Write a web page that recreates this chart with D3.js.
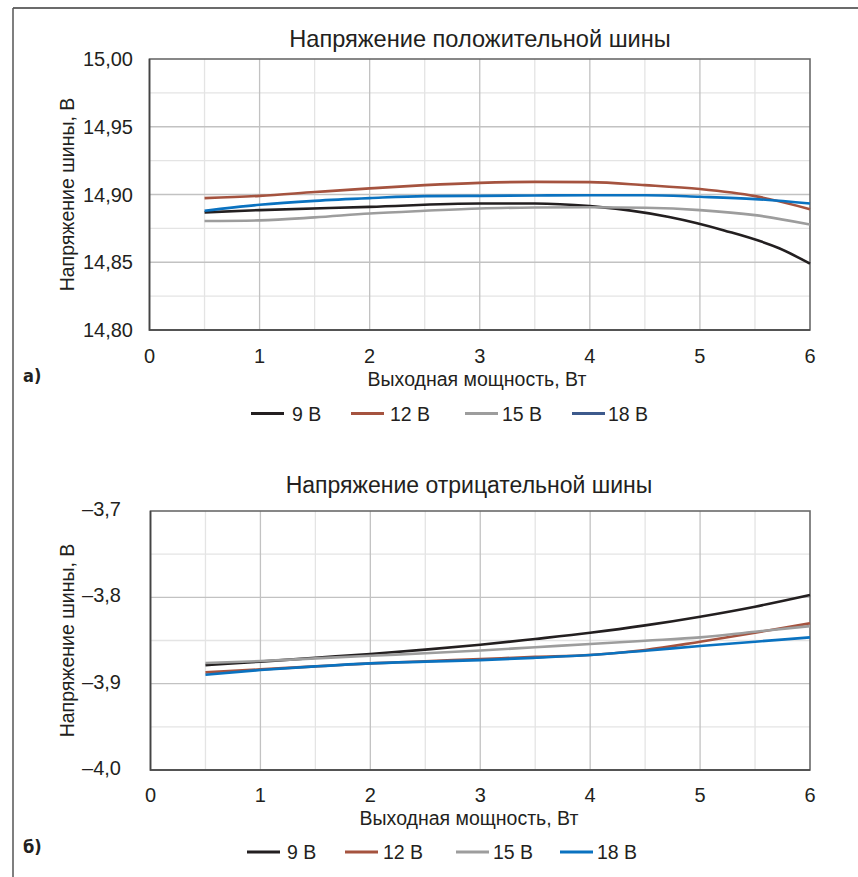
<!DOCTYPE html>
<html><head><meta charset="utf-8">
<script src="https://cdn.jsdelivr.net/npm/d3@7"></script>
<style>
html,body{margin:0;padding:0;background:#fff;}
svg{display:block;font-family:"Liberation Sans",Arial,sans-serif;}
</style></head>
<body>
<svg id="c" width="858" height="877"></svg>
<script>
// ---------- data ----------
const seriesNames = ["9 В", "12 В", "15 В", "18 В"];
const seriesColors = ["#231f20", "#a5533f", "#9d9d9d", "#0a72c0"];
const legendColorsTop = ["#231f20", "#a5533f", "#9d9d9d", "#3d5a8c"];
const legendColorsBottom = ["#231f20", "#a5533f", "#9d9d9d", "#0a72c0"];

const xTicks = [0, 1, 2, 3, 4, 5, 6];
const yTicksTop = [14.80, 14.85, 14.90, 14.95, 15.00];
const yTicksBottom = [-4.0, -3.9, -3.8, -3.7];

const xTop = [0.5, 1, 1.5, 2, 2.5, 3, 3.5, 4, 4.5, 5, 5.5, 6];
const xTopBlack = [0.5, 1, 2, 3, 3.5, 4, 4.72, 5.22, 5.72, 6];
const top9 = [14.8868, 14.8885, 14.8909, 14.8934, 14.8934, 14.8914, 14.8834, 14.8735, 14.8603, 14.849];
const top12 = [14.8973, 14.899, 14.9018, 14.9045, 14.9069, 14.9086, 14.9093, 14.9091, 14.9069, 14.904, 14.8988, 14.8892];
const top15 = [14.8804, 14.8809, 14.8831, 14.886, 14.888, 14.8897, 14.8904, 14.8906, 14.8902, 14.8885, 14.8848, 14.8779];
const top18 = [14.888, 14.8924, 14.8953, 14.8973, 14.8988, 14.899, 14.8993, 14.8995, 14.8995, 14.8983, 14.8966, 14.8934];

const xBottom = [0.5, 1, 1.5, 2, 2.5, 3, 3.5, 4, 4.5, 5, 5.5, 6];
const bot9 = [-3.8785, -3.8745, -3.870, -3.8656, -3.8606, -3.855, -3.8482, -3.841, -3.8325, -3.8224, -3.8108, -3.7973];
const bot12 = [-3.8869, -3.8834, -3.880, -3.8765, -3.874, -3.8715, -3.869, -3.8668, -3.861, -3.8514, -3.841, -3.8301];
const bot15 = [-3.876, -3.8738, -3.8707, -3.8676, -3.8648, -3.8615, -3.8578, -3.8541, -3.8503, -3.8464, -3.8398, -3.8333];
const bot18 = [-3.8896, -3.8842, -3.880, -3.8765, -3.8745, -3.8727, -3.870, -3.8668, -3.8618, -3.8564, -3.8514, -3.8464];

const titleTop = "Напряжение положительной шины";
const titleBottom = "Напряжение отрицательной шины";
const xTitle = "Выходная мощность, Вт";
const yTitle = "Напряжение шины, В";

// ---------- drawing ----------
const svg = d3.select("#c");
// outer frame
svg.append("line").attr("x1", 13).attr("x2", 858).attr("y1", 8).attr("y2", 8).attr("stroke", "#3a3a3a").attr("stroke-width", 1.5);
svg.append("line").attr("x1", 13).attr("x2", 13).attr("y1", 8).attr("y2", 877).attr("stroke", "#555").attr("stroke-width", 1.5);

const fmtTop = d => d3.format(".2f")(d).replace(".", ",");
const fmtBot = d => "–" + d3.format(".1f")(Math.abs(d)).replace(".", ",");

function drawChart(o) {
  const g = svg.append("g");
  const x = d3.scaleLinear().domain([0, 6]).range([o.left, o.right]);
  const y = d3.scaleLinear().domain(o.yDomain).range([o.bottom, o.top]);

  // minor grid
  const xMinor = d3.range(0.5, 6, 1);
  g.selectAll(".vxm").data(xMinor).enter().append("line")
    .attr("x1", d => x(d)).attr("x2", d => x(d)).attr("y1", o.top).attr("y2", o.bottom)
    .attr("stroke", "#e4e4e4").attr("stroke-width", 1.3);
  g.selectAll(".hym").data(o.yMinor).enter().append("line")
    .attr("x1", o.left).attr("x2", o.right).attr("y1", d => y(d)).attr("y2", d => y(d))
    .attr("stroke", "#e4e4e4").attr("stroke-width", 1.3);
  // major grid
  g.selectAll(".vx").data(xTicks.slice(1, -1)).enter().append("line")
    .attr("x1", d => x(d)).attr("x2", d => x(d)).attr("y1", o.top).attr("y2", o.bottom)
    .attr("stroke", "#c2c2c2").attr("stroke-width", 1.3);
  g.selectAll(".hy").data(o.yTicks.slice(1, -1)).enter().append("line")
    .attr("x1", o.left).attr("x2", o.right).attr("y1", d => y(d)).attr("y2", d => y(d))
    .attr("stroke", "#c2c2c2").attr("stroke-width", 1.3);

  // frame
  g.append("rect").attr("x", o.left).attr("y", o.top).attr("width", o.right - o.left).attr("height", o.bottom - o.top)
    .attr("fill", "none").attr("stroke", "#6a6a6a").attr("stroke-width", 1.6);
  g.append("path").attr("d", `M${o.left},${o.top}V${o.bottom}H${o.right}`)
    .attr("fill", "none").attr("stroke", "#444").attr("stroke-width", 1.6);

  // lines
  o.series.forEach((s, i) => {
    const line = d3.line().curve(s.curve || d3.curveMonotoneX).x(d => x(d[0])).y(d => y(d[1]));
    const pts = s.xs.map((xv, k) => [xv, s.ys[k]]);
    g.append("path").datum(pts).attr("d", line).attr("fill", "none")
      .attr("stroke", seriesColors[i]).attr("stroke-width", 2.6).attr("stroke-linejoin", "round");
  });

  // y tick labels
  g.selectAll(".yl").data(o.yTicks).enter().append("text")
    .attr("x", o.yLabelX).attr("y", d => y(d) + o.yLabelDy)
    .attr("text-anchor", "end").attr("font-size", 20).attr("fill", "#231f20")
    .text(o.fmt);
  // x tick labels
  g.selectAll(".xl").data(xTicks).enter().append("text")
    .attr("x", d => x(d)).attr("y", o.xLabelY)
    .attr("text-anchor", "middle").attr("font-size", 20).attr("fill", "#231f20")
    .text(d => d);
  // titles
  g.append("text").attr("x", o.titleX).attr("y", o.titleY).attr("text-anchor", "middle")
    .attr("font-size", o.titleSize).attr("fill", "#231f20").text(o.title);
  g.append("text").attr("x", o.xTitleX).attr("y", o.xTitleY).attr("text-anchor", "middle")
    .attr("font-size", 19.5).attr("fill", "#231f20").text(xTitle);
  g.append("text").attr("transform", `translate(${o.yTitleX},${(o.top + o.bottom) / 2}) rotate(-90)`)
    .attr("text-anchor", "middle").attr("font-size", 19.5).attr("fill", "#231f20").text(yTitle);

  // panel label
  g.append("text").attr("x", 23).attr("y", o.panelY).attr("font-size", 18).attr("font-weight", "bold")
    .attr("font-family", "'Liberation Sans Narrow','DejaVu Sans Condensed',sans-serif")
    .attr("fill", "#231f20").text(o.panel);

  // legend
  o.legend.forEach((L, i) => {
    g.append("line").attr("x1", L.x).attr("x2", L.x + 33).attr("y1", o.legendY).attr("y2", o.legendY)
      .attr("stroke", o.legendColors[i]).attr("stroke-width", 3);
    g.append("text").attr("x", L.x + L.gap).attr("y", o.legendY + 7).attr("font-size", 19.5)
      .attr("fill", "#231f20").text(seriesNames[i]);
  });
}

drawChart({
  left: 149.5, right: 810, top: 59, bottom: 330,
  yDomain: [14.80, 15.00], yTicks: yTicksTop, yMinor: [14.825, 14.875, 14.925, 14.975],
  fmt: fmtTop, yLabelX: 133, yLabelDy: 7,
  xLabelY: 363, title: titleTop, titleX: 480, titleY: 47, titleSize: 23.6,
  xTitleX: 477, xTitleY: 386, yTitleX: 74,
  panel: "а)", panelY: 382,
  legendY: 413.5, legendColors: legendColorsTop,
  legend: [{x: 251, gap: 41}, {x: 351, gap: 39}, {x: 465, gap: 37}, {x: 572, gap: 36}],
  series: [
    {xs: xTopBlack, ys: top9}, {xs: xTop, ys: top12}, {xs: xTop, ys: top15}, {xs: xTop, ys: top18}
  ]
});

drawChart({
  left: 150.5, right: 810, top: 511, bottom: 770,
  yDomain: [-4.0, -3.7], yTicks: yTicksBottom, yMinor: [-3.95, -3.85, -3.75],
  fmt: fmtBot, yLabelX: 121, yLabelDy: 5,
  xLabelY: 802, title: titleBottom, titleX: 469, titleY: 493, titleSize: 23,
  xTitleX: 469, xTitleY: 825, yTitleX: 74,
  panel: "б)", panelY: 853,
  legendY: 852, legendColors: legendColorsBottom,
  legend: [{x: 247, gap: 40}, {x: 345, gap: 38}, {x: 456, gap: 37}, {x: 560, gap: 37}],
  series: [
    {xs: xBottom, ys: bot9}, {xs: xBottom, ys: bot12}, {xs: xBottom, ys: bot15}, {xs: xBottom, ys: bot18}
  ]
});
</script>
</body></html>
